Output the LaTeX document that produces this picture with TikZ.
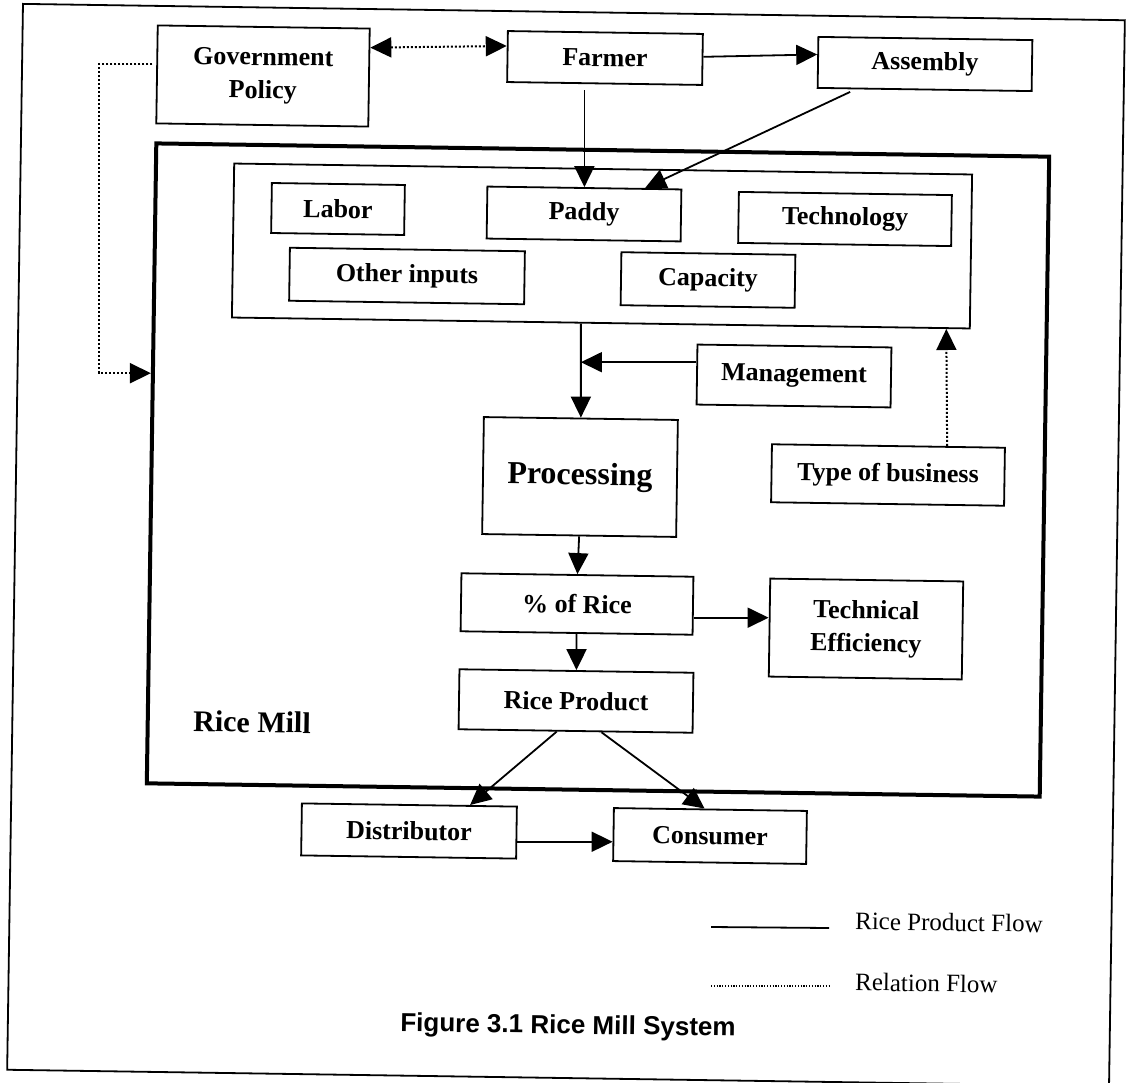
\documentclass[tikz,border=0pt]{standalone}
\usepackage{fontspec}
\setmainfont{Liberation Serif}
\newfontfamily\capfont{Liberation Sans}
\usetikzlibrary{arrows.meta,calc}
\begin{document}
\begin{tikzpicture}[x=1pt,y=-1pt,
  tilt/.style={rotate=-0.85},
  box/.style={draw, line width=1.8pt, tilt, inner sep=0pt, align=center,
    font=\fontsize{26}{33}\selectfont\bfseries},
  frame/.style={draw, tilt, inner sep=0pt},
  tip/.style={-{Triangle[length=21pt,width=20pt]}},
  arr/.style={line width=1.8pt, tip},
  dotline/.style={line width=2pt, dash pattern=on 2pt off 2pt},
  dotarr/.style={dotline, tip},
  dotdbl/.style={dotline, {Triangle[length=21pt,width=20pt]}-{Triangle[length=21pt,width=20pt]}},
  lgd/.style={tilt, inner sep=0pt, font=\fontsize{25}{28}\selectfont},
]
\useasboundingbox (0,0) rectangle (1129,1083);
\fill[white] (0,0) rectangle (1129,1083);

% frames
\node[frame, line width=1.8pt, minimum width=1102pt, minimum height=1066pt] (outer) at (566,545) {};
\node[frame, line width=4pt, minimum width=893pt, minimum height=640pt] (ricemill) at (598,470) {};
\node[frame, line width=1.8pt, minimum width=738pt, minimum height=154pt] (inputs) at (602,246) {};

% top row
\node[box, minimum width=212pt, minimum height=98pt] (gov) at (263,76) {Government\\Policy};
\node[box, minimum width=195pt, minimum height=51pt] (farmer) at (605,58) {Farmer};
\node[box, minimum width=214pt, minimum height=51pt] (assembly) at (925,64) {Assembly};

% inputs
\node[box, minimum width=133pt, minimum height=50pt] (labor) at (338,209) {Labor};
\node[box, minimum width=194pt, minimum height=52pt] (paddy) at (584,214) {Paddy};
\node[box, minimum width=213pt, minimum height=51pt] (tech) at (845,219) {Technology};
\node[box, minimum width=235pt, minimum height=53pt] (other) at (407,276) {Other inputs};
\node[box, minimum width=174pt, minimum height=53pt] (capacity) at (708,280) {Capacity};

% middle
\node[box, minimum width=194pt, minimum height=60pt] (mgmt) at (794,376) {Management};
\node[box, minimum width=194pt, minimum height=117pt, font=\fontsize{32}{38}\selectfont\bfseries] (processing) at (580,477) {Processing};
\node[box, minimum width=233pt, minimum height=58pt] (type) at (888,475) {Type of business};
\node[box, minimum width=232pt, minimum height=58pt] (pct) at (577,604) {\% of Rice};
\node[box, minimum width=193pt, minimum height=98pt] (techeff) at (866,629) {Technical\\Efficiency};
\node[box, minimum width=234pt, minimum height=60pt] (rp) at (576,701) {Rice Product};
\node[tilt, inner sep=0pt, font=\fontsize{30}{34}\selectfont\bfseries] (rmlabel) at (252,722) {Rice Mill};

% bottom
\node[box, minimum width=215pt, minimum height=52pt] (dist) at (409,831) {Distributor};
\node[box, minimum width=193pt, minimum height=53pt] (consumer) at (710,836) {Consumer};

% connectors
\coordinate (gpA) at ($(gov.north east)!0.2!(gov.south east)$);
\coordinate (gpB) at ($(farmer.north west)!0.3!(farmer.south west)$);
\draw[dotdbl] (gpA) -- (gpB);

\coordinate (faA) at ($(farmer.north east)!0.45!(farmer.south east)$);
\coordinate (faB) at ($(assembly.north west)!0.35!(assembly.south west)$);
\draw[arr] (faA) -- (faB);

\draw[arr, shorten <=6pt] (paddy.north |- farmer.south) -- (paddy.north);

\coordinate (apA) at ($(assembly.south west)!0.18!(assembly.south east)$);
\coordinate (apB) at ($(paddy.north west)!0.81!(paddy.north east)$);
\draw[arr, shorten <=6pt] (apA) -- (apB);

\coordinate (ipA) at ($(inputs.south west)!0.473!(inputs.south east)$);
\draw[arr] (ipA) -- (processing.north);

\coordinate (mA) at ($(mgmt.north west)!0.3!(mgmt.south west)$);
\draw[arr] (mA) -- (mA -| processing.north);

\coordinate (tA) at ($(type.north west)!0.75!(type.north east)$);
\coordinate (tB) at ($(inputs.south west)!0.967!(inputs.south east)$);
\draw[dotarr] (tA) -- (tB);

\draw[arr] (processing.south) -- (pct.north);
\draw[arr] (pct.south) -- (rp.north);

\coordinate (ptA) at ($(pct.north east)!0.7!(pct.south east)$);
\draw[arr] (ptA) -- (ptA -| techeff.west);

\coordinate (rdA) at ($(rp.south west)!0.42!(rp.south east)$);
\coordinate (rdB) at ($(dist.north west)!0.78!(dist.north east)$);
\draw[arr] (rdA) -- (rdB);
\coordinate (rcA) at ($(rp.south west)!0.61!(rp.south east)$);
\coordinate (rcB) at ($(consumer.north west)!0.47!(consumer.north east)$);
\draw[arr] (rcA) -- (rcB);

\coordinate (dcA) at ($(dist.north east)!0.67!(dist.south east)$);
\draw[arr] (dcA) -- (dcA -| consumer.west);

\coordinate (grA) at ($(gov.north west)!0.4!(gov.south west)$);
\coordinate (grB) at ($(ricemill.north west)!0.36!(ricemill.south west)$);
\draw[dotarr, shorten <=4pt] (grA) -- ++(-57,0) |- (grB);

% legend
\coordinate (l1a) at (711,927);
\coordinate (l1b) at (829,928);
\draw[line width=1.8pt] (l1a) -- (l1b);
\coordinate (l2a) at (711,986);
\coordinate (l2b) at (829,986);
\draw[line width=1.2pt, dash pattern=on 1.2pt off 1.6pt] (l2a) -- (l2b);
\node[lgd, anchor=west] (lg1) at (855,921) {Rice Product Flow};
\node[lgd, anchor=west] (lg2) at (855,982) {Relation Flow};

\node[tilt, inner sep=0pt, font=\capfont\bfseries\fontsize{26}{30}\selectfont] (cap) at (568,1027) {Figure 3.1 Rice Mill System};
\end{tikzpicture}
\end{document}
